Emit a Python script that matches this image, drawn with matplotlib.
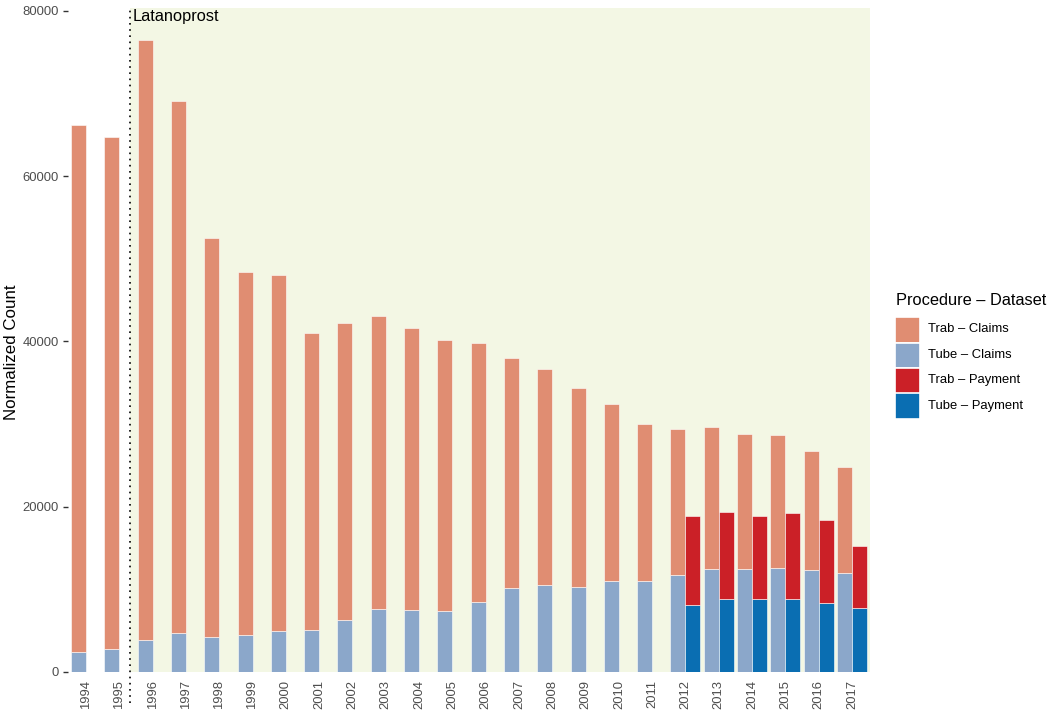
import matplotlib
matplotlib.use("Agg")
import matplotlib.pyplot as plt
from matplotlib.patches import Rectangle
import numpy as np

plt.rcParams["font.family"] = ["Liberation Sans", "DejaVu Sans"]

# data
years = list(range(1994, 2018))
tube_claims = [2380, 2740, 3910, 4680, 4280, 4440, 5000, 5080, 6250, 7590, 7470, 7350,
               8490, 10200, 10490, 10290, 11010, 11010, 11780, 12470, 12500, 12620, 12340, 11940]
trab_claims = [63770, 62040, 72580, 64470, 48210, 43970, 43010, 35990, 35950, 35460, 34130, 32870,
               31290, 27770, 26150, 24120, 21430, 18990, 17590, 17220, 16270, 16100, 14370, 12910]
pay_years = list(range(2012, 2018))
tube_payment = [8110, 8840, 8840, 8840, 8310, 7710]
trab_payment = [10730, 10560, 10000, 10360, 10050, 7580]

labels = ["Trab – Claims", "Tube – Claims", "Trab – Payment", "Tube – Payment"]
colors = ["#E08D72", "#8BA7CA", "#CB2027", "#0A6EB2"]
bg_green = "#F3F7E4"
event_x = 1995.31
event_label = "Latanoprost"

W, H = 1050, 718
fig = plt.figure(figsize=(W/100, H/100), dpi=100)
ax = fig.add_axes([68/W, 46/H, 802/W, 664/H])

xmin, xmax = 1993.46, 2017.54
ax.set_xlim(xmin, xmax)
ax.set_ylim(0, 80360)
ax.axvspan(event_x, xmax, color=bg_green, zorder=0, lw=0)

w = 0.45
yrs = np.array(years)
py = np.array(pay_years)
ax.bar(yrs - w/2, tube_claims, width=w, color=colors[1], edgecolor="white", linewidth=0.4, zorder=2)
ax.bar(yrs - w/2, trab_claims, bottom=tube_claims, width=w, color=colors[0], edgecolor="white", linewidth=0.4, zorder=2)
ax.bar(py + w/2, tube_payment, width=w, color=colors[3], edgecolor="white", linewidth=0.4, zorder=2)
ax.bar(py + w/2, trab_payment, bottom=tube_payment, width=w, color=colors[2], edgecolor="white", linewidth=0.4, zorder=2)

ax.axvline(event_x, ymin=-0.047, ymax=1, color="black", lw=1.2, linestyle=(0, (1, 2.7)), clip_on=False, zorder=3)
ax.text(event_x + 0.1, 80250, event_label, ha="left", va="top", fontsize=11.8, color="black", zorder=4)

for s in ax.spines.values():
    s.set_visible(False)

ax.set_yticks([0, 20000, 40000, 60000, 80000])
ax.set_yticklabels(["0", "20000", "40000", "60000", "80000"])
ax.set_xticks(years)
ax.set_xticklabels([str(y) for y in years], rotation=90)
ax.tick_params(axis="y", length=3.8, width=1, color="#333333", pad=3, labelsize=9.4, labelcolor="#4D4D4D")
ax.tick_params(axis="x", length=0, pad=5.5, labelsize=9.4, labelcolor="#4D4D4D")

fig.text(12/W, 1 - 352/H, "Normalized Count", rotation=90, ha="center", va="center", fontsize=12.2)

# legend, drawn by hand to match the ggplot key boxes
fig.text(896/W, 1 - 300.5/H, "Procedure – Dataset", ha="left", va="center", fontsize=11.8)
for i, (c, lab) in enumerate(zip(colors, labels)):
    top = 317 + i*25.5
    fig.add_artist(Rectangle((895/W, 1 - (top + 25.5)/H), 25/W, 25.5/H, transform=fig.transFigure,
                             facecolor=c, edgecolor="white", linewidth=1.2))
    fig.text(928/W, 1 - (top + 12.5)/H, lab, ha="left", va="center", fontsize=9.4)

fig.savefig("out.png", dpi=100)
